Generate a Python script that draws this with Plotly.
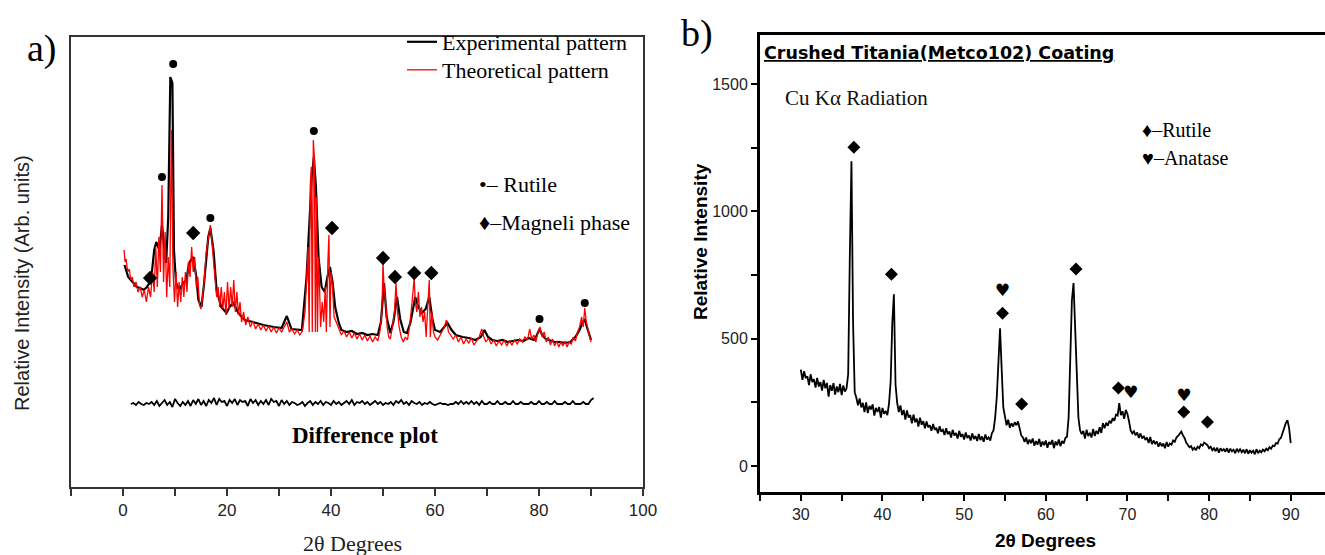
import plotly.graph_objects as go

# ---------------- Panel a) data (arbitrary intensity units) ----------------
exp_two_theta = [0.3, 0.6, 1.0, 1.5, 2.1, 2.7, 3.3, 4.0, 4.6, 5.4,
                 6.0, 6.4, 7.0, 7.5, 8.0, 8.3, 8.7, 9.1, 9.5, 9.8,
                 10.2, 10.8, 11.6, 12.2, 12.7, 13.5, 14.1, 14.5, 15.1, 15.6,
                 16.4, 16.8, 17.4, 18.0, 18.9, 19.9, 20.5, 21.2, 22.2, 23.4,
                 25.0, 27.0, 29.0, 30.5, 31.5, 32.4, 34.4, 35.3, 35.8, 36.3,
                 36.7, 37.1, 37.6, 38.2, 38.8, 39.3, 39.8, 40.3, 40.8, 41.5,
                 42.0, 43.0, 44.0, 45.0, 46.0, 47.0, 48.0, 49.0, 49.6, 50.2,
                 50.7, 51.4, 52.0, 52.7, 53.3, 54.0, 54.6, 55.3, 56.2, 56.8,
                 57.5, 58.2, 58.9, 59.5, 60.0, 61.0, 62.4, 63.2, 64.0, 65.3,
                 66.5, 67.8, 68.8, 69.5, 70.2, 71.0, 72.0, 73.0, 74.0, 75.0,
                 76.0, 77.0, 78.0, 79.0, 79.6, 80.1, 80.6, 81.3, 82.0, 83.0,
                 84.0, 85.0, 86.0, 87.0, 87.8, 88.4, 88.8, 89.3, 90.0]
exp_intensity = [222, 217, 210, 207, 203, 200, 199, 197, 200, 207,
                 237, 245, 237, 262, 236, 224, 270, 410, 404, 237,
                 204, 197, 204, 207, 224, 230, 210, 187, 180, 204,
                 250, 259, 237, 197, 180, 174, 180, 184, 174, 167,
                 165, 162, 160, 159, 171, 158, 157, 210, 260, 310,
                 330, 300, 230, 200, 195, 210, 220, 205, 180, 164,
                 157, 155, 156, 153, 154, 152, 153, 152, 165, 204,
                 170, 154, 165, 190, 168, 155, 154, 165, 190, 180,
                 174, 178, 190, 168, 157, 155, 164, 157, 152, 150,
                 149, 147, 150, 157, 150, 147, 146, 147, 145, 146,
                 147, 146, 149, 147, 152, 158, 152, 148, 147, 145,
                 145, 144, 145, 150, 157, 165, 167, 158, 147]

theo_two_theta = [0.2, 0.4, 0.6, 0.9, 1.2, 1.5, 1.8, 2.1, 2.5, 2.9,
                  3.3, 3.7, 4.1, 4.5, 4.9, 5.3, 5.7, 6.0, 6.3, 6.6,
                  6.9, 7.2, 7.5, 7.8, 8.1, 8.4, 8.7, 9.0, 9.3, 9.6,
                  9.9, 10.2, 10.5, 10.8, 11.1, 11.4, 11.7, 12.0, 12.3, 12.6,
                  12.9, 13.2, 13.5, 13.8, 14.1, 14.4, 14.7, 15.0, 15.3, 15.6,
                  16.0, 16.4, 16.8, 17.1, 17.4, 17.7, 18.0, 18.3, 18.6, 18.9,
                  19.2, 19.5, 19.8, 20.1, 20.4, 20.7, 21.0, 21.3, 21.6, 21.9,
                  22.2, 22.5, 22.8, 23.2, 23.6, 24.0, 24.5, 25.0, 25.5, 26.0,
                  26.5, 27.0, 27.5, 28.0, 28.5, 29.0, 29.5, 30.0, 30.5, 31.0,
                  31.5, 32.0, 32.5, 33.0, 33.5, 34.0, 34.5, 35.0, 35.3, 35.6,
                  35.8, 36.0, 36.2, 36.4, 36.6, 36.8, 37.0, 37.2, 37.4, 37.6,
                  37.8, 38.0, 38.3, 38.6, 38.9, 39.1, 39.4, 39.6, 39.8, 40.0,
                  40.3, 40.6, 41.0, 41.5, 42.0, 42.5, 43.0, 43.5, 44.0, 44.5,
                  45.0, 45.5, 46.0, 46.5, 47.0, 47.5, 48.0, 48.5, 49.0, 49.4,
                  49.8, 50.0, 50.2, 50.5, 50.8, 51.1, 51.4, 51.8, 52.2, 52.5,
                  52.8, 53.1, 53.5, 53.9, 54.3, 54.7, 55.1, 55.5, 55.8, 56.0,
                  56.2, 56.5, 56.8, 57.1, 57.4, 57.7, 58.0, 58.3, 58.6, 58.9,
                  59.1, 59.4, 59.7, 60.0, 60.5, 61.0, 61.4, 61.8, 62.2, 62.6,
                  63.0, 63.5, 64.0, 64.5, 65.0, 65.5, 66.0, 66.5, 67.0, 67.5,
                  68.0, 68.5, 69.0, 69.4, 69.8, 70.3, 70.8, 71.3, 71.8, 72.3,
                  72.8, 73.3, 73.8, 74.3, 74.8, 75.3, 75.8, 76.3, 76.8, 77.3,
                  77.8, 78.2, 78.6, 79.0, 79.4, 79.8, 80.2, 80.6, 81.0, 81.4,
                  81.8, 82.2, 82.6, 83.0, 83.4, 83.8, 84.2, 84.6, 85.0, 85.4,
                  85.8, 86.2, 86.6, 87.0, 87.4, 87.8, 88.2, 88.5, 88.8, 89.1,
                  89.4, 89.7, 90.0]
theo_intensity = [237, 225, 228, 215, 218, 207, 210, 200, 205, 195,
                  200, 190, 197, 185, 200, 190, 215, 195, 240, 200,
                  250, 215, 302, 205, 255, 190, 230, 200, 357, 220,
                  185, 215, 180, 205, 185, 210, 190, 215, 195, 225,
                  210, 240, 215, 230, 200, 210, 182, 178, 190, 205,
                  235, 250, 262, 245, 225, 205, 190, 200, 180, 200,
                  178, 195, 172, 205, 178, 200, 180, 207, 175, 195,
                  172, 185, 165, 175, 162, 170, 160, 166, 158, 163,
                  157, 162, 156, 161, 155, 160, 154, 159, 155, 160,
                  165, 155, 158, 153, 157, 152, 156, 175, 205, 240,
                  155, 300, 320, 155, 347, 330, 155, 290, 155, 230,
                  200, 160, 185, 165, 200, 155, 225, 252, 160, 215,
                  200, 170, 165, 158, 152, 156, 150, 155, 149, 154,
                  148, 153, 147, 152, 146, 151, 145, 150, 146, 155,
                  175, 224, 200, 185, 160, 150, 148, 160, 175, 204,
                  175, 160, 150, 145, 150, 147, 160, 180, 195, 209,
                  185, 175, 195, 170, 180, 165, 175, 150, 180, 207,
                  150, 175, 155, 150, 147, 152, 155, 160, 167, 155,
                  152, 148, 152, 145, 150, 143, 148, 144, 149, 142,
                  146, 150, 158, 150, 145, 149, 143, 147, 141, 146,
                  142, 147, 141, 146, 142, 147, 143, 148, 145, 150,
                  147, 158, 148, 152, 145, 155, 160, 150, 155, 145,
                  150, 142, 148, 141, 146, 140, 145, 141, 146, 140,
                  145, 143, 150, 146, 155, 160, 170, 160, 179, 165,
                  158, 150, 145]

# difference (experimental - theoretical), scan from 1.5 deg in 0.5 deg steps
diff_start = 1.5
diff_step = 0.5
diff_offset = 83
diff_residual = [0, 1, -1, 2, 0, -1, 1, 0, 2, -1,
                 3, -2, 1, 4, -1, 2, -3, 5, 1, -2,
                 2, -1, 3, -2, 4, 0, 5, -1, 3, -2,
                 4, 1, 6, -1, 5, 2, 3, -2, 4, 1,
                 5, -1, 4, 2, 3, -2, 5, 1, 4, -1,
                 3, 0, 4, -1, 5, 2, 3, -2, 4, 0,
                 3, -1, 2, 1, -1, 0, 2, -2, 1, 3,
                 -1, 2, 0, 3, -1, 2, 1, -1, 3, 0,
                 2, -1, 1, 3, 0, 4, -1, 2, 1, 3,
                 0, 2, -1, 1, 3, 0, 2, -1, 1, 0,
                 2, -1, 3, 1, 4, 0, 2, -1, 3, 1,
                 0, 2, -1, 1, 0, 2, 0, -1, 0, 1,
                 0, 0, -1, 0, 0, 2, 0, 3, 0, 2,
                 0, 3, 0, 2, -1, 3, 0, 0, 2, 0,
                 0, 3, 0, 0, 2, 0, 0, 3, 0, 0,
                 2, 0, 0, 0, 2, 0, 0, 3, 0, 0,
                 2, 0, 0, 3, 0, 0, 0, 2, 0, 0,
                 3, 0, 0, 0, 2, 0, 0, 4, 6]

rutile_a_x = [7.5, 9.65, 16.8, 36.7, 80.1, 88.8]
rutile_a_y = [310, 423, 269, 356, 168, 184]
magneli_x = [5.2, 13.5, 40.2, 50.0, 52.3, 56.0, 59.3]
magneli_y = [209, 254, 259, 229, 210, 214, 214]

# ---------------- Panel b) data (counts) ----------------
b_start = 30.0
b_step = 0.2
b_counts = [378, 338, 372, 345, 352, 318, 360, 330, 341, 308,   # 30.0
            346, 312, 330, 296, 338, 305, 326, 272, 318, 295,   # 32.0
            325, 280, 312, 290, 322, 278, 316, 292, 305, 360,   # 34.0
            820, 1196, 560, 290, 268, 238, 265, 230, 248, 212,  # 36.0
            250, 208, 236, 222, 242, 198, 228, 212, 232, 190,   # 38.0
            228, 205, 216, 200, 245, 330, 560, 674, 320, 248,   # 40.0
            212, 238, 200, 220, 182, 218, 190, 200, 168, 202,   # 42.0
            172, 186, 155, 190, 162, 176, 148, 175, 152, 160,   # 44.0
            138, 165, 142, 150, 128, 156, 135, 142, 122, 148,   # 46.0
            125, 136, 112, 142, 120, 130, 108, 138, 115, 126,   # 48.0
            104, 132, 110, 120, 100, 128, 106, 118, 98, 126,    # 50.0
            102, 116, 95, 124, 104, 112, 100, 128, 140, 190,    # 52.0
            270, 430, 541, 380, 230, 195, 160, 182, 150, 168,   # 54.0
            155, 172, 160, 175, 150, 120, 112, 95, 112, 86,     # 56.0
            104, 90, 108, 80, 98, 84, 106, 76, 96, 82,          # 58.0
            100, 72, 94, 85, 102, 70, 96, 82, 104, 78,          # 60.0
            98, 88, 110, 115, 190, 420, 650, 718, 560, 330,     # 62.0
            190, 140, 125, 138, 108, 142, 118, 130, 112, 145,   # 64.0
            118, 138, 126, 152, 130, 168, 148, 170, 158, 178,   # 66.0
            168, 188, 178, 202, 198, 247, 200, 215, 185, 220,   # 68.0
            205, 175, 140, 128, 136, 120, 132, 110, 128, 108,   # 70.0
            118, 102, 112, 90, 114, 86, 100, 88, 96, 76,        # 72.0
            92, 78, 88, 70, 94, 76, 88, 84, 100, 95,            # 74.0
            112, 118, 125, 135, 120, 110, 92, 85, 74, 78,       # 76.0
            64, 72, 62, 76, 70, 85, 80, 92, 88, 82,             # 78.0
            70, 76, 62, 70, 58, 72, 52, 70, 60, 66,             # 80.0
            56, 70, 52, 68, 58, 64, 50, 68, 56, 66,             # 82.0
            54, 64, 50, 66, 48, 62, 52, 60, 46, 66,             # 84.0
            50, 60, 54, 64, 58, 68, 62, 74, 68, 80,             # 86.0
            78, 90, 88, 105, 110, 130, 150, 168, 180, 150,      # 88.0
            90]                                                 # 90.0

rutile_b_x = [36.5, 41.1, 54.7, 57.05, 63.7, 68.9, 76.9, 79.8]
rutile_b_y = [1251, 753, 600, 243, 773, 306, 212, 173]
anatase_x = [54.7, 70.4, 76.9]
anatase_y = [686, 282, 271]

# ---------------- Figure ----------------
W, H = 1325, 555


def fx(p):
    return p / W


def fy(p):
    return 1 - p / H


SERIF = "Liberation Serif, Times New Roman, serif"
SANS = "Liberation Sans, Arial, sans-serif"

fig = go.Figure()

fig.add_trace(go.Scatter(x=exp_two_theta, y=exp_intensity, mode="lines",
                         line=dict(color="black", width=2.2),
                         name="Experimental pattern", legend="legend",
                         xaxis="x", yaxis="y"))
fig.add_trace(go.Scatter(x=theo_two_theta, y=theo_intensity, mode="lines",
                         line=dict(color="#ff0000", width=1.3),
                         name="Theoretical pattern", legend="legend2",
                         xaxis="x", yaxis="y"))
diff_x = [diff_start + diff_step * i for i in range(len(diff_residual))]
diff_y = [diff_offset + r for r in diff_residual]
fig.add_trace(go.Scatter(x=diff_x, y=diff_y, mode="lines",
                         line=dict(color="black", width=1.8),
                         showlegend=False, xaxis="x", yaxis="y"))
fig.add_trace(go.Scatter(x=rutile_a_x, y=rutile_a_y, mode="markers",
                         marker=dict(symbol="circle", size=8, color="black"),
                         showlegend=False, xaxis="x", yaxis="y"))
fig.add_trace(go.Scatter(x=magneli_x, y=magneli_y, mode="markers",
                         marker=dict(symbol="diamond", size=11, color="black"),
                         showlegend=False, xaxis="x", yaxis="y"))

b_x = [b_start + b_step * i for i in range(len(b_counts))]
fig.add_trace(go.Scatter(x=b_x, y=b_counts, mode="lines",
                         line=dict(color="black", width=1.8),
                         showlegend=False, xaxis="x2", yaxis="y2"))
fig.add_trace(go.Scatter(x=rutile_b_x, y=rutile_b_y, mode="markers",
                         marker=dict(symbol="diamond", size=10, color="black"),
                         showlegend=False, xaxis="x2", yaxis="y2"))
fig.add_trace(go.Scatter(x=anatase_x, y=anatase_y, mode="text", text=["♥"] * len(anatase_x),
                         textposition="middle center",
                         textfont=dict(size=17, color="black", family="DejaVu Sans"),
                         showlegend=False, xaxis="x2", yaxis="y2"))

annotations = [
    # panel a texts
    dict(text="a)", x=fx(42), y=fy(48), font=dict(family=SERIF, size=38, color="black")),
    dict(text="<b>Difference plot</b>", x=46.5, y=52, xref="x", yref="y",
         font=dict(family=SERIF, size=23, color="black")),
    dict(text="•– Rutile", x=fx(477), y=fy(185), xanchor="left",
         font=dict(family=SERIF, size=22, color="black")),
    dict(text="♦–Magneli phase", x=fx(477), y=fy(222), xanchor="left",
         font=dict(family=SERIF, size=22, color="black")),
    dict(text="Relative Intensity (Arb. units)", x=fx(22), y=fy(283), textangle=-90,
         font=dict(family=SANS, size=20, color="#222")),
    dict(text="2θ Degrees", x=fx(352), y=fy(543),
         font=dict(family=SERIF, size=22, color="#222")),
    # panel b texts
    dict(text="b)", x=fx(697), y=fy(33), font=dict(family=SERIF, size=38, color="black")),
    dict(text="<u><b>Crushed Titania(Metco102) Coating</b></u>", x=fx(762), y=fy(53),
         xanchor="left", font=dict(family="DejaVu Sans", size=17.5, color="black")),
    dict(text="Cu Kα Radiation", x=fx(783), y=fy(98), xanchor="left",
         font=dict(family=SERIF, size=21, color="#111")),
    dict(text="♦–Rutile", x=fx(1140), y=fy(130), xanchor="left",
         font=dict(family=SERIF, size=20, color="black")),
    dict(text="♥–Anatase", x=fx(1140), y=fy(158), xanchor="left",
         font=dict(family=SERIF, size=20, color="black")),
    dict(text="<b>Relative Intensity</b>", x=fx(700), y=fy(242), textangle=-90,
         font=dict(family=SANS, size=19, color="black")),
    dict(text="<b>2θ Degrees</b>", x=fx(1045), y=fy(540),
         font=dict(family=SANS, size=19, color="black")),
]
for a in annotations:
    a.setdefault("xref", "paper")
    a.setdefault("yref", "paper")
    a.setdefault("xanchor", "center")
    a.setdefault("yanchor", "middle")
    a.setdefault("showarrow", False)

legend_style = dict(xanchor="left", yanchor="top", bgcolor="rgba(0,0,0,0)", borderwidth=0,
                    font=dict(family=SERIF, size=22, color="black"),
                    tracegroupgap=0, itemwidth=30)

fig.update_layout(
    width=W, height=H,
    autosize=False,
    margin=dict(l=0, r=0, t=0, b=0, autoexpand=False),
    paper_bgcolor="white", plot_bgcolor="white",
    showlegend=True,
    legend=dict(x=fx(402), y=fy(21), **legend_style),
    legend2=dict(x=fx(402), y=fy(49), **legend_style),
    xaxis=dict(domain=[fx(71), fx(643)], range=[-10, 100], anchor="y",
               tick0=0, dtick=20, ticks="outside", ticklen=7, tickwidth=1.5, tickcolor="#333",
               showline=True, linecolor="#333", linewidth=1.5, mirror=True,
               showgrid=False, zeroline=False,
               tickfont=dict(family=SANS, size=17, color="#222"),
               minor=dict(dtick=10, tick0=0, ticks="outside", ticklen=7, tickwidth=1.5,
                          tickcolor="#333", showgrid=False)),
    yaxis=dict(domain=[1 - 487 / H, 1 - 37 / H], range=[0, 450], anchor="x",
               showticklabels=False, ticks="",
               showline=True, linecolor="#333", linewidth=1.5, mirror=True,
               showgrid=False, zeroline=False),
    xaxis2=dict(domain=[fx(760), 1.0], range=[25, 94.2], anchor="y2",
                tick0=30, dtick=10, ticks="outside", ticklen=6, tickwidth=2, tickcolor="black",
                showline=True, linecolor="black", linewidth=3, mirror=True,
                showgrid=False, zeroline=False,
                tickfont=dict(family=SANS, size=16, color="#222"),
                minor=dict(dtick=5, tick0=25, ticks="outside", ticklen=6, tickwidth=2,
                           tickcolor="black", showgrid=False)),
    yaxis2=dict(domain=[1 - 492 / H, 1 - 35 / H], range=[-102, 1692], anchor="x2",
                tick0=0, dtick=500, ticks="outside", ticklen=6, tickwidth=2, tickcolor="black",
                showline=True, linecolor="black", linewidth=3, mirror=False,
                showgrid=False, zeroline=False,
                tickfont=dict(family=SANS, size=16, color="#222"),
                minor=dict(dtick=250, tick0=0, ticks="outside", ticklen=6, tickwidth=2,
                           tickcolor="black", showgrid=False)),
    annotations=annotations,
)

fig.write_html(
    "out.html",
    default_width="1325px",
    default_height="555px",
    config={"displayModeBar": False},
    post_script=("document.body.style.margin='0';document.body.style.padding='0';"
                 "document.body.style.overflow='hidden';"),
)
